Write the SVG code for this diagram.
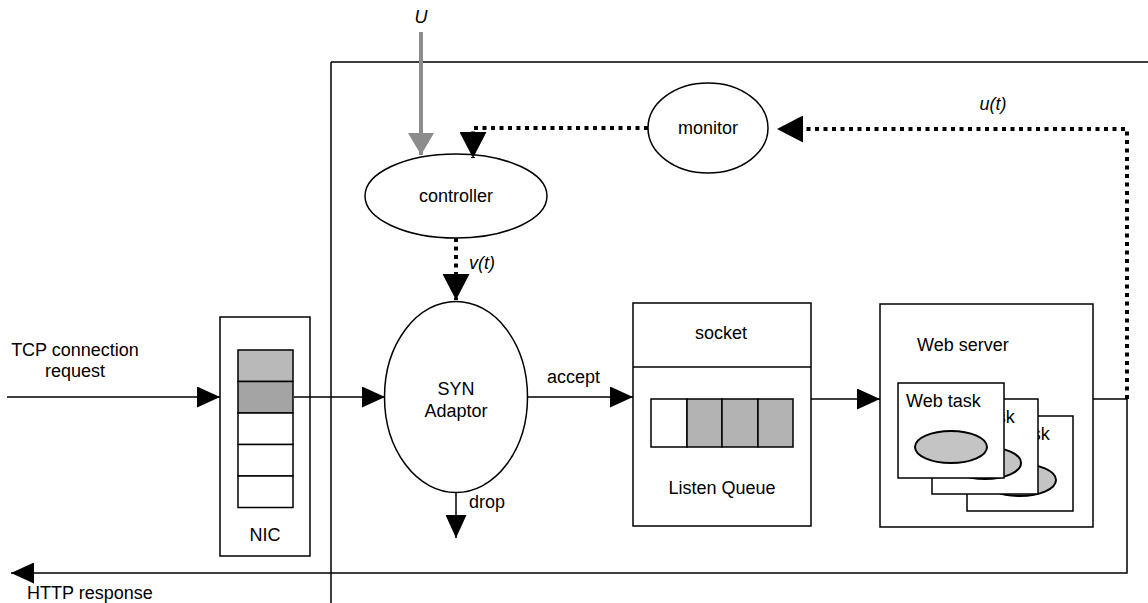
<svg xmlns="http://www.w3.org/2000/svg" width="1148" height="603" viewBox="0 0 1148 603">
<style>
text{font-family:"Liberation Sans",Arial,sans-serif;font-size:18px;fill:#000}
.it{font-style:italic}
.mid{text-anchor:middle}
.box{fill:#fff;stroke:#000;stroke-width:1.5}
.cell{fill:#fff;stroke:#000;stroke-width:1.5}
.g1{fill:#b9b9b9}
.g2{fill:#a4a4a4}
.g3{fill:#b3b3b3}
.ell{fill:#fff;stroke:#000;stroke-width:1.5}
.task-ell{fill:#c4c4c4;stroke:#000;stroke-width:2}
.ln{fill:none;stroke:#000;stroke-width:1.5}
.dot{fill:none;stroke:#000;stroke-width:4;stroke-dasharray:4 4.5}
.grey{fill:none;stroke:#8c8c8c;stroke-width:4}
</style>
<defs>
<marker id="ah" markerUnits="userSpaceOnUse" markerWidth="23" markerHeight="21" refX="23" refY="10.5" orient="auto">
<path d="M0,0 L23,10.5 L0,21 z" fill="#000" stroke="none"/>
</marker>
<marker id="ahb" markerUnits="userSpaceOnUse" markerWidth="27" markerHeight="27" refX="26" refY="13.5" orient="auto">
<path d="M0,0 L26,13.5 L0,27 z" fill="#000" stroke="none"/>
</marker>
<marker id="ahg" markerUnits="userSpaceOnUse" markerWidth="23" markerHeight="26" refX="22" refY="13" orient="auto">
<path d="M0,0 L22,13 L0,26 z" fill="#8c8c8c" stroke="none"/>
</marker>
</defs>

<g id="system-boundary">
<path class="ln" d="M331,62 H1148 M331,62 V603"/>
</g>

<g id="nic">
<rect class="box" x="220" y="317" width="90" height="239"/>
<rect class="cell g1" x="238" y="350" width="55" height="31.5"/>
<rect class="cell g2" x="238" y="381.5" width="55" height="31.5"/>
<rect class="cell" x="238" y="413" width="55" height="31.5"/>
<rect class="cell" x="238" y="444.5" width="55" height="31.5"/>
<rect class="cell" x="238" y="476" width="55" height="31.5"/>
<text class="mid" x="265" y="541">NIC</text>
</g>

<g id="syn-adaptor">
<ellipse class="ell" cx="456" cy="397" rx="71.5" ry="95.5"/>
<text class="mid" x="456" y="395">SYN</text>
<text class="mid" x="456" y="417">Adaptor</text>
</g>

<g id="controller">
<ellipse class="ell" cx="456" cy="196" rx="91" ry="42"/>
<text class="mid" x="456" y="202">controller</text>
</g>

<g id="monitor">
<ellipse class="ell" cx="708" cy="128" rx="60" ry="45"/>
<text class="mid" x="708" y="134">monitor</text>
</g>

<g id="socket">
<rect class="box" x="633" y="303" width="178" height="223"/>
<line class="ln" x1="633" y1="367" x2="811" y2="367"/>
<text class="mid" x="721" y="339">socket</text>
<rect class="cell" x="651" y="399" width="36" height="48"/>
<rect class="cell g3" x="687" y="399" width="35" height="48"/>
<rect class="cell g3" x="722" y="399" width="36" height="48"/>
<rect class="cell g3" x="758" y="399" width="35" height="48"/>
<text class="mid" x="722" y="494">Listen Queue</text>
</g>

<g id="web-server">
<rect class="box" x="880" y="304" width="213" height="223"/>
<text x="917" y="351">Web server</text>
<g transform="translate(69,33)">
<rect class="box" x="898" y="383" width="106" height="95"/>
<text x="906" y="407">Web task</text>
<ellipse class="task-ell" cx="951" cy="447" rx="36" ry="16"/>
</g>
<g transform="translate(34,16)">
<rect class="box" x="898" y="383" width="106" height="95"/>
<text x="906" y="407">Web task</text>
<ellipse class="task-ell" cx="951" cy="447" rx="36" ry="16"/>
</g>
<g>
<rect class="box" x="898" y="383" width="106" height="95"/>
<text x="906" y="407">Web task</text>
<ellipse class="task-ell" cx="951" cy="447" rx="36" ry="16"/>
</g>
</g>

<g id="connectors">
<path class="ln" d="M7,397 H220" marker-end="url(#ah)"/>
<path class="ln" d="M294,397 H385" marker-end="url(#ah)"/>
<path class="ln" d="M528,397 H633" marker-end="url(#ah)"/>
<path class="ln" d="M811,399 H880" marker-end="url(#ah)"/>
<path class="ln" d="M456,493 V538" marker-end="url(#ah)"/>
<path class="ln" d="M1093,399 H1127 V573 H11" marker-end="url(#ah)"/>
<path class="dot" d="M1127,399 V129 H777" marker-end="url(#ahb)"/>
<path class="dot" d="M648,128 H473 V158" marker-end="url(#ahb)"/>
<path class="dot" d="M456,238 V300" marker-end="url(#ahb)"/>
<path class="grey" d="M421,32 V155" marker-end="url(#ahg)"/>
</g>

<g id="labels">
<text class="mid" x="75" y="356">TCP connection</text>
<text class="mid" x="75" y="377">request</text>
<text x="27" y="599">HTTP response</text>
<text class="it mid" x="421" y="23">U</text>
<text class="it" x="469" y="269">v(t)</text>
<text class="it mid" x="993" y="110">u(t)</text>
<text x="547" y="383">accept</text>
<text x="469" y="508">drop</text>
</g>
</svg>
